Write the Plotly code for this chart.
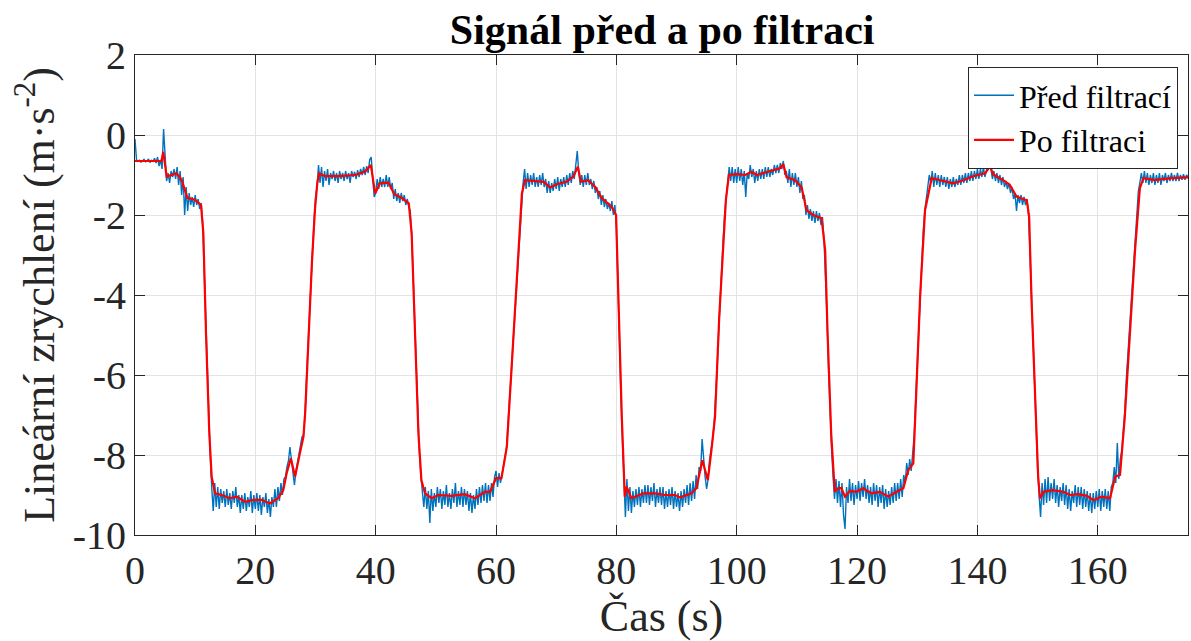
import plotly.graph_objects as go

# ---------------- data ----------------
title_text = "Signál před a po filtraci"
x_title = "Čas (s)"
y_title = "Lineární zrychlení (m·s<sup>-2</sup>)"
series_names = ["Před filtrací", "Po filtraci"]

x_ticks = [0, 20, 40, 60, 80, 100, 120, 140, 160]
x_tick_labels = ["0", "20", "40", "60", "80", "100", "120", "140", "160"]
y_ticks = [-10, -8, -6, -4, -2, 0, 2]
y_tick_labels = ["-10", "-8", "-6", "-4", "-2", "0", "2"]

# raw signal, one value every 0.25 s starting at t = 0
before_t0 = 0.0
before_dt = 0.25
before_y = [
    -0.1, -0.62, -0.66, -0.63, -0.68, -0.64, -0.61, -0.67, -0.65, -0.6, -0.69, -0.63, -0.66, -0.58, -0.7, -0.55, -0.78, -0.62, -0.85, 0.15,
    -0.55, -1.15, -0.95, -1.2, -0.9, -1.05, -0.85, -1.1, -0.8, -1.25, -0.9, -1.5, -1.05, -2.0, -1.3, -1.9, -1.45, -1.75, -1.55, -1.8,
    -1.5, -1.75, -1.6, -1.85, -1.7, -2.2, -3.4, -4.7, -6.0, -7.1, -8.0, -8.8, -9.4, -8.7, -9.3, -8.8, -9.35, -8.85, -9.2, -8.9,
    -9.3, -8.85, -9.25, -8.95, -9.35, -8.9, -9.2, -8.8, -9.3, -9.0, -9.45, -9.0, -9.35, -8.95, -9.4, -9.05, -9.3, -8.9, -9.45, -9.0,
    -9.35, -8.95, -9.4, -9.0, -9.5, -9.05, -9.3, -8.95, -9.45, -9.1, -9.55, -9.05, -9.3, -8.85, -9.3, -8.8, -9.15, -8.7, -9.0, -8.6,
    -8.55, -8.3, -8.15, -7.8, -8.1, -8.4, -8.75, -8.4, -8.2, -8.0, -7.8, -7.55, -7.5, -7.0, -6.1, -5.2, -4.3, -3.6, -2.9, -2.2,
    -1.55, -1.3, -0.75, -1.2, -0.8, -1.3, -0.9, -1.15, -0.85, -1.25, -0.95, -1.1, -0.9, -1.15, -0.95, -1.2, -0.9, -1.1, -0.95, -1.15,
    -0.9, -1.1, -0.95, -1.2, -0.9, -1.05, -0.92, -1.1, -0.88, -1.05, -0.85, -1.0, -0.8, -1.0, -0.78, -0.95, -0.62, -0.55, -1.1, -1.55,
    -1.45, -1.1, -1.35, -1.05, -1.3, -1.1, -1.3, -1.0, -1.3, -1.05, -1.35, -1.2, -1.6, -1.35, -1.65, -1.45, -1.7, -1.45, -1.65, -1.5,
    -1.75, -1.6, -1.8, -1.9, -2.6, -3.7, -5.0, -6.0, -7.1, -7.9, -8.5, -8.85, -9.3, -8.8, -9.35, -8.9, -9.7, -8.85, -9.4, -8.95,
    -9.3, -8.8, -9.2, -8.85, -9.35, -8.9, -9.25, -8.75, -9.3, -8.95, -9.35, -8.85, -9.2, -8.7, -9.3, -8.9, -9.25, -8.8, -9.3, -8.85,
    -9.25, -8.9, -9.4, -8.95, -9.45, -9.0, -9.35, -8.85, -9.25, -8.8, -9.2, -8.75, -9.15, -8.7, -9.2, -8.75, -9.15, -8.7, -9.05, -8.55,
    -8.4, -8.8, -8.45, -8.7, -8.5, -8.3, -8.05, -7.8, -7.2, -6.6, -6.0, -5.4, -4.7, -4.1, -3.5, -2.9, -2.2, -1.55, -1.2, -0.85,
    -1.35, -0.95, -1.3, -1.0, -1.25, -0.95, -1.3, -1.05, -1.3, -1.0, -1.25, -0.95, -1.3, -1.1, -1.45, -1.15, -1.45, -1.2, -1.4, -1.1,
    -1.35, -1.05, -1.4, -1.1, -1.3, -1.05, -1.3, -1.0, -1.25, -0.95, -1.2, -0.9, -1.1, -0.75, -0.4, -0.95, -1.25, -1.0, -1.3, -1.0,
    -1.25, -0.95, -1.25, -1.1, -1.35, -1.15, -1.45, -1.3, -1.6, -1.4, -1.75, -1.5, -1.8, -1.6, -1.85, -1.7, -1.9, -1.65, -2.0, -1.75,
    -2.3, -3.7, -5.3, -6.5, -7.6, -8.6, -9.55, -8.6, -9.4, -8.8, -9.45, -8.9, -9.3, -8.85, -9.25, -8.8, -9.3, -8.85, -9.2, -8.75,
    -9.2, -8.75, -9.25, -8.8, -9.15, -8.7, -9.3, -8.85, -9.2, -8.8, -9.25, -8.8, -9.35, -8.9, -9.3, -8.85, -9.25, -8.8, -9.35, -8.9,
    -9.3, -8.95, -9.4, -8.9, -9.3, -8.85, -9.2, -8.75, -9.25, -8.7, -9.15, -8.65, -9.1, -8.5, -8.85, -8.3, -8.4, -7.6, -8.2, -8.55,
    -8.85, -8.6, -8.1, -7.9, -7.6, -7.2, -6.6, -5.8, -4.9, -4.0, -3.3, -2.6, -1.95, -1.5, -1.1, -0.8, -1.15, -0.8, -1.2, -0.85,
    -1.2, -0.8, -1.15, -0.85, -1.25, -0.9, -1.55, -0.95, -1.1, -0.75, -1.05, -0.85, -1.2, -0.9, -1.15, -0.85, -1.1, -0.85, -1.1, -0.8,
    -1.05, -0.8, -1.05, -0.85, -1.0, -0.75, -0.95, -0.75, -0.95, -0.7, -0.85, -0.65, -1.0, -0.9, -1.2, -0.85, -1.3, -0.95, -1.25, -0.95,
    -1.3, -1.05, -1.45, -1.15, -1.6, -1.5, -2.0, -1.75, -2.1, -1.85, -2.15, -1.9, -2.2, -1.9, -2.15, -1.95, -2.25, -2.05, -2.6, -3.4,
    -4.5, -5.8, -7.0, -7.8, -8.5, -9.1, -8.6, -9.2, -8.65, -9.3, -8.7, -9.5, -9.85, -8.8, -9.2, -8.6, -9.15, -8.7, -9.25, -8.75,
    -9.1, -8.65, -9.15, -8.7, -9.05, -8.6, -9.1, -8.75, -9.2, -8.8, -9.25, -8.7, -9.15, -8.75, -9.3, -8.8, -9.2, -8.75, -9.35, -8.85,
    -9.3, -8.9, -9.25, -8.8, -9.2, -8.7, -9.15, -8.7, -9.1, -8.6, -9.05, -8.5, -8.7, -8.2, -8.5, -8.1, -8.4, -7.9, -7.5, -6.6,
    -5.7, -4.8, -3.9, -3.1, -2.4, -1.9, -1.55, -1.3, -1.0, -1.2, -0.9, -1.3, -0.95, -1.25, -1.0, -1.3, -1.0, -1.25, -1.05, -1.3,
    -1.05, -1.35, -1.1, -1.3, -1.05, -1.3, -1.1, -1.25, -1.0, -1.25, -1.0, -1.2, -0.95, -1.2, -0.95, -1.15, -0.9, -1.15, -0.9, -1.1,
    -0.85, -1.1, -0.85, -1.05, -0.8, -1.05, -0.85, -0.7, -0.55, -0.85, -1.1, -0.9, -1.15, -0.95, -1.2, -1.0, -1.25, -1.05, -1.3, -1.15,
    -1.35, -1.2, -1.45, -1.3, -1.6, -1.45, -1.9, -1.5, -1.7, -1.5, -1.75, -1.55, -1.75, -1.6, -2.0, -3.0, -4.1, -5.1, -6.2, -7.3,
    -8.3, -9.0, -9.55, -8.7, -9.25, -8.6, -9.2, -8.55, -9.15, -8.7, -9.1, -8.6, -9.2, -8.75, -9.3, -8.8, -9.15, -8.7, -9.25, -8.75,
    -9.35, -8.85, -9.4, -8.9, -9.2, -8.75, -9.3, -8.8, -9.25, -8.8, -9.35, -8.85, -9.3, -8.9, -9.4, -8.95, -9.45, -8.95, -9.35, -8.9,
    -9.3, -8.85, -9.4, -8.9, -9.3, -8.85, -9.35, -8.9, -9.4, -8.8, -8.7, -8.3, -8.7, -7.7, -8.6, -8.1, -7.9, -7.4, -6.9, -6.1,
    -5.5, -4.9, -4.3, -3.6, -3.0, -2.4, -1.8, -1.4, -1.2, -0.95, -1.2, -0.9, -1.2, -0.95, -1.25, -1.0, -1.2, -0.95, -1.25, -1.0,
    -1.2, -0.95, -1.25, -1.0, -1.15, -0.95, -1.2, -1.0, -1.15, -0.95, -1.15, -1.0, -1.15, -0.95, -1.15, -1.0, -1.12, -0.98, -1.12, -1.0,
    -1.05,
]

# filtered signal
after_t = [
    0, 4.4, 4.7, 5.26, 6.9, 7.75, 8.7, 9.97, 10.97, 11.36, 11.8, 12.35, 12.74, 13.3, 14.4, 15.8, 16.9, 18.3, 19.7, 21.05,
    22.4, 23.8, 24.65, 25.2, 25.9, 26.6, 27.4, 28.0, 28.3, 28.7, 29.1, 29.4, 29.9, 30.3, 30.6, 31.6, 33.8, 36.6, 38.2, 39.2,
    39.9, 40.7, 42.1, 43.1, 44.3, 45.5, 45.98, 46.5, 47.1, 47.6, 48.2, 49.3, 50.4, 52.6, 54.8, 56.5, 58.2, 59.0, 60.0, 60.9,
    61.8, 62.6, 63.4, 64.3, 64.8, 66.2, 67.9, 69.0, 70.1, 71.7, 72.85, 73.6, 74.1, 75.3, 76.45, 77.6, 79.2, 79.95, 80.3, 80.9,
    81.4, 81.7, 82.5, 84.5, 86.4, 88.1, 89.75, 90.6, 92.5, 93.3, 94.3, 95.2, 95.8, 96.4, 97.1, 97.8, 98.2, 98.7, 100.0, 101.4,
    102.5, 103.3, 105.3, 107.2, 107.75, 108.3, 109.7, 110.8, 111.6, 112.7, 114.1, 114.7, 115.1, 115.7, 116.3, 116.9, 117.4, 118.0, 118.8, 119.9,
    121.0, 122.4, 123.8, 125.2, 126.6, 127.7, 128.5, 129.35, 129.9, 130.5, 131.3, 132.4, 133.8, 136.0, 137.7, 139.3, 141.3, 142.1, 142.6, 144.3,
    145.4, 146.5, 148.2, 148.6, 149.0, 149.6, 150.1, 150.4, 151.0, 152.4, 154.3, 155.4, 156.8, 158.2, 159.3, 160.7, 162.05, 162.9, 163.7, 164.5,
    165.4, 166.2, 167.0, 167.6, 169.5, 172.3, 175.0,
]
after_y = [
    -0.65, -0.65, -0.42, -1.04, -0.96, -1.12, -1.57, -1.62, -1.75, -2.46, -4.96, -7.46, -8.54, -8.96, -9.0, -9.08, -9.04, -9.17, -9.12, -9.12,
    -9.21, -9.08, -8.88, -8.46, -8.08, -8.54, -7.96, -7.54, -6.9, -5.4, -4.0, -3.2, -1.88, -1.2, -0.96, -1.03, -1.03, -1.0, -0.92, -0.75,
    -1.46, -1.21, -1.19, -1.48, -1.57, -1.71, -2.46, -4.96, -7.46, -8.63, -8.96, -9.08, -9.0, -9.02, -8.98, -9.08, -8.92, -8.92, -8.58, -8.58,
    -7.79, -5.79, -3.71, -1.46, -1.13, -1.14, -1.17, -1.31, -1.23, -1.17, -1.04, -0.79, -1.17, -1.13, -1.29, -1.58, -1.79, -2.0, -4.13, -7.04,
    -9.04, -8.79, -9.08, -8.96, -8.96, -9.0, -9.0, -9.06, -8.96, -8.83, -8.13, -8.63, -7.88, -7.04, -4.54, -2.46, -1.63, -1.0, -0.98, -1.0,
    -0.92, -1.0, -0.92, -0.83, -0.73, -1.06, -1.13, -1.31, -1.88, -2.0, -2.08, -2.88, -4.96, -7.46, -8.92, -8.83, -8.83, -9.04, -8.9, -8.92,
    -8.83, -8.96, -8.92, -9.04, -8.92, -8.83, -8.38, -8.21, -6.21, -3.96, -1.88, -1.08, -1.13, -1.21, -1.13, -1.03, -0.96, -0.78, -0.98, -1.13,
    -1.25, -1.54, -1.63, -2.04, -4.13, -6.63, -8.54, -9.08, -8.92, -8.88, -8.92, -9.0, -8.98, -9.02, -9.13, -9.04, -9.08, -8.54, -8.5, -7.04,
    -4.96, -2.88, -1.33, -1.08, -1.13, -1.08, -1.06,
]

# ---------------- figure ----------------
SERIF = "Times New Roman"
AXIS_COLOR = "#262626"
GRID_COLOR = "#e3e3e3"

fig = go.Figure()
fig.add_trace(go.Scatter(
    y=before_y, x0=before_t0, dx=before_dt, mode="lines", name=series_names[0],
    line=dict(color="#0072BD", width=1.4),
))
fig.add_trace(go.Scatter(
    x=after_t, y=after_y, mode="lines", name=series_names[1],
    line=dict(color="#FF0000", width=2.2),
))

axis_common = dict(
    showline=True, linecolor=AXIS_COLOR, linewidth=1, mirror="ticks",
    ticks="inside", ticklen=10, tickcolor=AXIS_COLOR, tickwidth=1,
    showgrid=True, gridcolor=GRID_COLOR, gridwidth=1, zeroline=False,
    automargin=False,
    tickfont=dict(family=SERIF, size=40, color=AXIS_COLOR, weight="normal"),
)

fig.update_layout(
    width=1191, height=641,
    margin=dict(l=135, r=3, t=55, b=106),
    paper_bgcolor="white", plot_bgcolor="white",
    title=dict(text="<b>" + title_text + "</b>", x=0.556, xanchor="center",
               y=0.955, yanchor="middle",
               font=dict(family=SERIF, size=42, color="black")),
    xaxis=dict(range=[0, 175], tickvals=x_ticks, ticktext=x_tick_labels,
               title=dict(text=x_title, font=dict(family=SERIF, size=44, color=AXIS_COLOR, weight="normal"), standoff=2),
               **axis_common),
    yaxis=dict(range=[-10, 2], tickvals=y_ticks, ticktext=y_tick_labels,
               title=dict(text=y_title, font=dict(family=SERIF, size=44, color=AXIS_COLOR, weight="normal"), standoff=4),
               **axis_common),
    legend=dict(x=0.9905, y=0.975, xanchor="right", yanchor="top",
                bgcolor="white", bordercolor=AXIS_COLOR, borderwidth=1,
                font=dict(family=SERIF, size=32, color="black", weight="normal"),
                itemwidth=40, tracegroupgap=0),
    showlegend=True,
)

fig.write_html("out.html", config={"displayModeBar": False},
               post_script="document.body.style.margin='0px';")
